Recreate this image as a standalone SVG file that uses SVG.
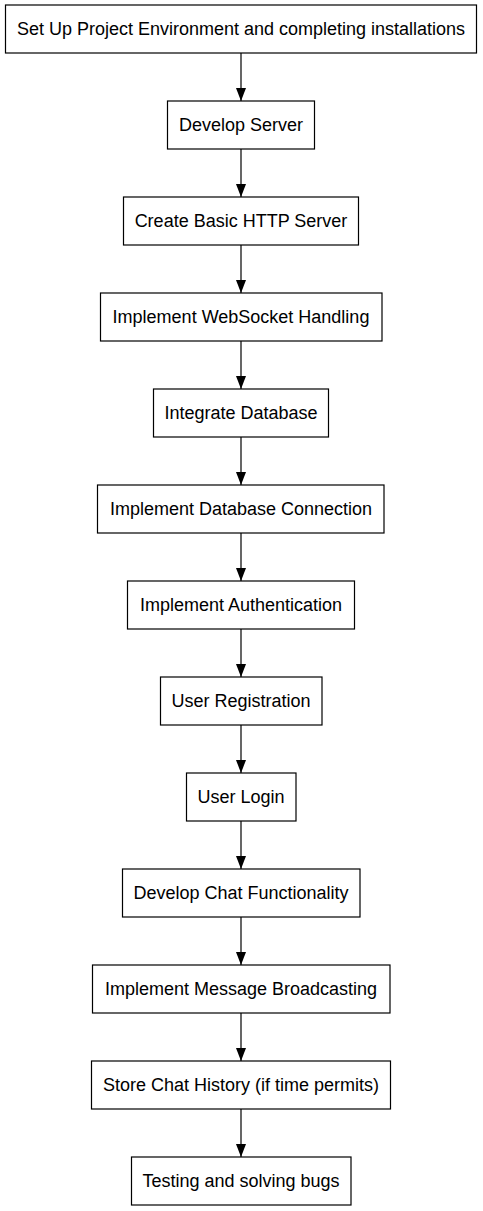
<svg xmlns="http://www.w3.org/2000/svg" width="483" height="1211" viewBox="0 0 483 1211">
<style>
.box{fill:#fff;stroke:#000;stroke-width:1.2}
.lbl{font-family:"Liberation Sans",Arial,sans-serif;font-size:18px;fill:#000;text-anchor:middle}
.edge{stroke:#000;stroke-width:1.2;fill:none}
</style>
<defs>
<marker id="ah" markerUnits="userSpaceOnUse" markerWidth="13" markerHeight="10" refX="13" refY="5" orient="auto">
<path d="M0,0 L13,5 L0,10 z" fill="#000"/>
</marker>
</defs>
<rect width="483" height="1211" fill="#fff"/>
<g id="connectors">
<line class="edge" x1="241" y1="53" x2="241" y2="101" marker-end="url(#ah)"/>
<line class="edge" x1="241" y1="149" x2="241" y2="197" marker-end="url(#ah)"/>
<line class="edge" x1="241" y1="245" x2="241" y2="293" marker-end="url(#ah)"/>
<line class="edge" x1="241" y1="341" x2="241" y2="389" marker-end="url(#ah)"/>
<line class="edge" x1="241" y1="437" x2="241" y2="485" marker-end="url(#ah)"/>
<line class="edge" x1="241" y1="533" x2="241" y2="581" marker-end="url(#ah)"/>
<line class="edge" x1="241" y1="629" x2="241" y2="677" marker-end="url(#ah)"/>
<line class="edge" x1="241" y1="725" x2="241" y2="773" marker-end="url(#ah)"/>
<line class="edge" x1="241" y1="821" x2="241" y2="869" marker-end="url(#ah)"/>
<line class="edge" x1="241" y1="917" x2="241" y2="965" marker-end="url(#ah)"/>
<line class="edge" x1="241" y1="1013" x2="241" y2="1061" marker-end="url(#ah)"/>
<line class="edge" x1="241" y1="1109" x2="241" y2="1157" marker-end="url(#ah)"/>
</g>
<g id="n1"><rect class="box" x="5.5" y="5" width="471" height="48"/><text class="lbl" x="241" y="35">Set Up Project Environment and completing installations</text></g>
<g id="n2"><rect class="box" x="167.5" y="101" width="147" height="48"/><text class="lbl" x="241" y="131">Develop Server</text></g>
<g id="n3"><rect class="box" x="123.5" y="197" width="235" height="48"/><text class="lbl" x="241" y="227">Create Basic HTTP Server</text></g>
<g id="n4"><rect class="box" x="100.5" y="293" width="281.5" height="48"/><text class="lbl" x="241" y="323">Implement WebSocket Handling</text></g>
<g id="n5"><rect class="box" x="153.5" y="389" width="175" height="48"/><text class="lbl" x="241" y="419">Integrate Database</text></g>
<g id="n6"><rect class="box" x="97.5" y="485" width="286.5" height="48"/><text class="lbl" x="241" y="515">Implement Database Connection</text></g>
<g id="n7"><rect class="box" x="127.5" y="581" width="227" height="48"/><text class="lbl" x="241" y="611">Implement Authentication</text></g>
<g id="n8"><rect class="box" x="160.5" y="677" width="161.5" height="48"/><text class="lbl" x="241" y="707">User Registration</text></g>
<g id="n9"><rect class="box" x="186.5" y="773" width="109.5" height="48"/><text class="lbl" x="241" y="803">User Login</text></g>
<g id="n10"><rect class="box" x="122.5" y="869" width="237.5" height="48"/><text class="lbl" x="241" y="899">Develop Chat Functionality</text></g>
<g id="n11"><rect class="box" x="92.5" y="965" width="297.5" height="48"/><text class="lbl" x="241" y="995">Implement Message Broadcasting</text></g>
<g id="n12"><rect class="box" x="91.5" y="1061" width="299" height="48"/><text class="lbl" x="241" y="1091">Store Chat History (if time permits)</text></g>
<g id="n13"><rect class="box" x="131.5" y="1157" width="219.5" height="48"/><text class="lbl" x="241" y="1187">Testing and solving bugs</text></g>
</svg>
